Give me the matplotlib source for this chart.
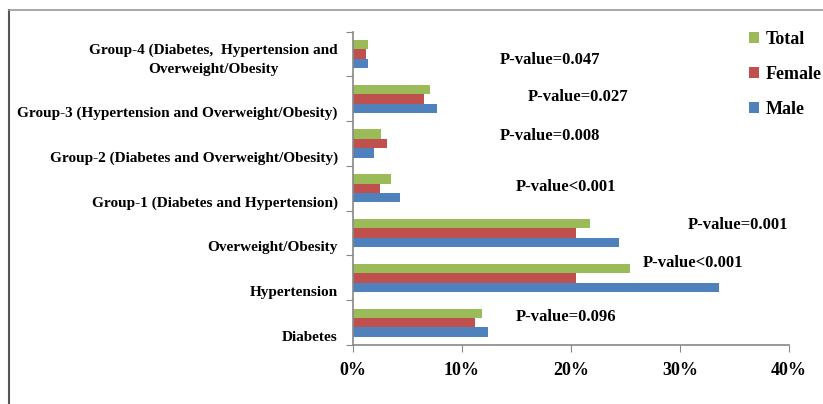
import matplotlib
matplotlib.use("Agg")
import matplotlib.pyplot as plt
import numpy as np
from matplotlib.ticker import FuncFormatter
from matplotlib.transforms import ScaledTranslation
from matplotlib.lines import Line2D

categories = [
    "Diabetes",
    "Hypertension",
    "Overweight/Obesity",
    "Group-1 (Diabetes and Hypertension)",
    "Group-2 (Diabetes and Overweight/Obesity)",
    "Group-3 (Hypertension and Overweight/Obesity)",
    "Group-4 (Diabetes,  Hypertension and\nOverweight/Obesity",
]
male = [12.4, 33.6, 24.4, 4.3, 1.9, 7.7, 1.4]
female = [11.2, 20.5, 20.5, 2.5, 3.1, 6.5, 1.2]
total = [11.8, 25.4, 21.7, 3.5, 2.6, 7.1, 1.35]
pvalues = ["P-value=0.096", "P-value<0.001", "P-value=0.001", "P-value<0.001",
           "P-value=0.008", "P-value=0.027", "P-value=0.047"]
xticks = [0, 10, 20, 30, 40]

# annotation placement (left x in %, y in category units)
p_pos = [(14.9, 0.12), (26.6, 1.33), (30.7, 2.18), (14.9, 3.03),
         (13.5, 4.17), (16.0, 5.05), (13.5, 5.87)]

plt.rcParams['font.family'] = ['Liberation Serif', 'DejaVu Serif']
plt.rcParams['font.weight'] = 'bold'

fig = plt.figure(figsize=(8.23, 4.04), dpi=100)
ax = fig.add_axes([353/823, 1 - 345/404, (789-353)/823, (345-31.7)/404])

y = np.arange(len(categories))
h = 0.21
c_male, c_female, c_total = "#4F81BD", "#C0504D", "#9BBB59"
ax.barh(y - h, male, height=h, color=c_male, label="Male")
ax.barh(y, female, height=h, color=c_female, label="Female")
ax.barh(y + h, total, height=h, color=c_total, label="Total")

ax.set_xlim(0, 40)
ax.set_ylim(-0.5, len(categories) - 0.5)
ax.set_xticks(xticks)
ax.xaxis.set_major_formatter(FuncFormatter(lambda v, p: f"{int(v)}%"))
ax.set_yticks(np.arange(len(categories) + 1) - 0.5, minor=False)
ax.set_yticklabels([])
ax.set_yticks(y, minor=True)
ax.set_yticklabels(categories, minor=True, fontsize=11, fontweight='bold',
                   multialignment='center', linespacing=1.6)
ax.tick_params(axis='y', which='minor', length=0, pad=11)
ax.tick_params(axis='y', which='major', length=5, color='#888888', direction='out')
ax.tick_params(axis='x', length=5, color='#888888', direction='out', labelsize=13, pad=7)
for lab in ax.get_xticklabels():
    lab.set_fontweight('bold')
for i, lab in enumerate(ax.get_yticklabels(minor=True)):
    dy = -1 if "\n" in categories[i] else -13
    lab.set_transform(lab.get_transform() + ScaledTranslation(0, dy/100, fig.dpi_scale_trans))

for s in ['top', 'right']:
    ax.spines[s].set_visible(False)
for s in ['left', 'bottom']:
    ax.spines[s].set_color('#888888')
    ax.spines[s].set_linewidth(1.2)

for (px, py), t in zip(p_pos, pvalues):
    ax.text(px, py, t, fontsize=12, fontweight='bold', ha='left', va='center')

handles, labels = ax.get_legend_handles_labels()
leg = fig.legend(handles[::-1], labels[::-1], loc='upper left',
                 bbox_to_anchor=(733/823, 1 - 15/404), frameon=False,
                 prop={'size': 13, 'weight': 'bold'}, handlelength=0.55,
                 handleheight=0.55, handletextpad=0.35, labelspacing=0.98)

fig.add_artist(Line2D([9/823, 9/823], [0, 1 - 10/404], transform=fig.transFigure,
                      color='#555555', lw=1.5))
fig.add_artist(Line2D([9/823, 1], [1 - 10/404, 1 - 10/404], transform=fig.transFigure,
                      color='#999999', lw=1.2))

fig.savefig("out.png", dpi=100)
